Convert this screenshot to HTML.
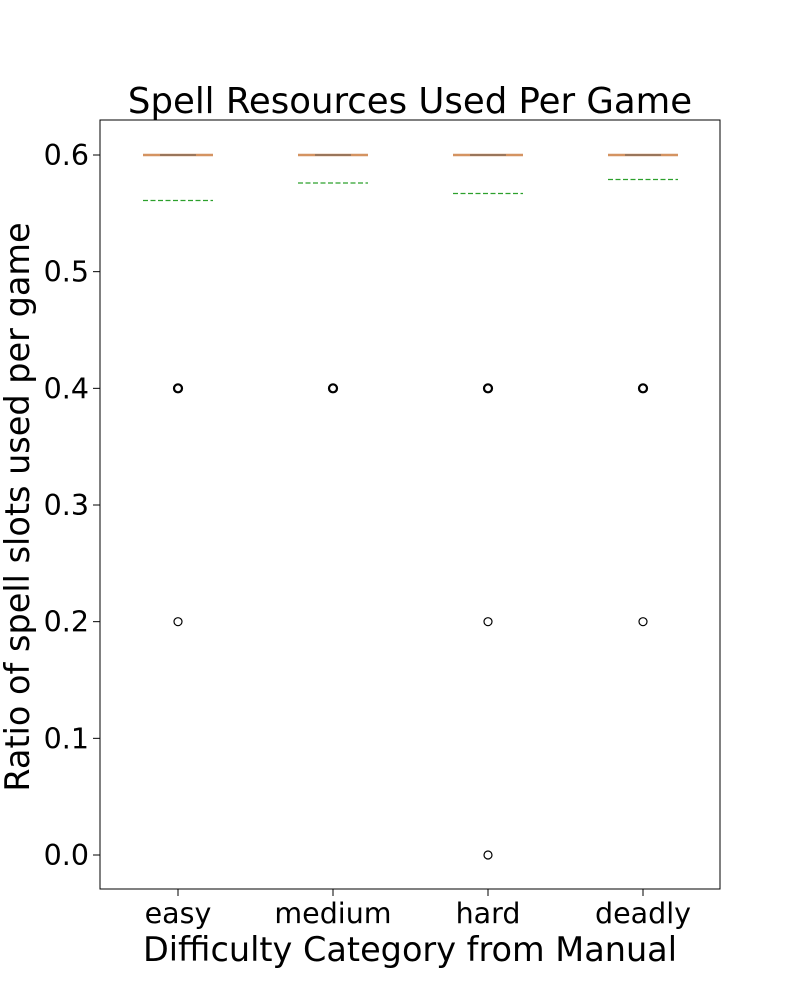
<!DOCTYPE html>
<html><head><meta charset="utf-8"><style>body{margin:0;background:#fff}svg{display:block;font-family:"DejaVu Sans","Liberation Sans",sans-serif}</style></head>
<body>
<svg id="chart" width="800" height="1000" xmlns="http://www.w3.org/2000/svg">
<rect x="100" y="120" width="620" height="769" fill="#fff" stroke="#000" stroke-width="1"/>
<text x="410" y="113" font-size="35.5" text-anchor="middle">Spell Resources Used Per Game</text>
<text x="410" y="961" font-size="33.5" text-anchor="middle">Difficulty Category from Manual</text>
<text transform="translate(29,507) rotate(-90)" font-size="33.5" text-anchor="middle">Ratio of spell slots used per game</text>
<g id="axes"></g><g id="marks"></g>
</svg>
<script>
const categories=["easy","medium","hard","deadly"];
const medians=[0.6,0.6,0.6,0.6];
const q1s=[0.6,0.6,0.6,0.6];
const q3s=[0.6,0.6,0.6,0.6];
const means=[0.561,0.576,0.567,0.579];
const outliers=[[0.4,0.2],[0.4],[0.4,0.2,0.0],[0.4,0.2]];
const yTicks=[0.0,0.1,0.2,0.3,0.4,0.5,0.6];
const NS="http://www.w3.org/2000/svg";
const y=v=>855-(v)*(700/0.6);
const x=i=>178+i*155;
const ax=document.getElementById('axes'),mk=document.getElementById('marks');
function el(t,a,p){const e=document.createElementNS(NS,t);for(const k in a)e.setAttribute(k,a[k]);p.appendChild(e);return e;}
yTicks.forEach(v=>{
 const l=el('line',{x1:93,x2:100,y1:y(v),y2:y(v),stroke:'#000'},ax);
 
 
 const t=el('text',{x:89,y:y(v)+10,'font-size':28.5,'text-anchor':'end'},ax);t.textContent=v.toFixed(1);
 
 
});
categories.forEach((c,i)=>{
 const cx=x(i);
 const l=el('line',{x1:cx,x2:cx,y1:889,y2:896,stroke:'#000'},ax);
 
 
 const t=el('text',{x:cx,y:923,'font-size':28.5,'text-anchor':'middle'},ax);t.textContent=c;
 
 
 const b=el('rect',{x:cx-38.75,y:y(q3s[i]),width:77.5,height:Math.max(0,y(q1s[i])-y(q3s[i])),fill:'none',stroke:'#000',opacity:0.3},mk);
 
 
 const m=el('line',{x1:cx-35,x2:cx+35,y1:y(medians[i]),y2:y(medians[i]),stroke:'#d08850','stroke-width':2.5,opacity:0.9},mk);
 
 
 const cap=el('line',{x1:cx-18,x2:cx+18,y1:y(q3s[i]),y2:y(q3s[i]),stroke:'#555','stroke-width':1.5,opacity:0.6},mk);
 
 
 const mn=el('line',{x1:cx-35,x2:cx+35,y1:y(means[i]),y2:y(means[i]),stroke:'#2ca02c','stroke-width':1.2,'stroke-dasharray':'5 2.5'},mk);
 
 
 outliers[i].forEach(v=>{
  const o=el('circle',{cx:cx,cy:y(v),r:4,fill:'none',stroke:'#000','stroke-width':v===0.4?2.2:1.2},mk);
  
  
 });
});
</script>
</body></html>
